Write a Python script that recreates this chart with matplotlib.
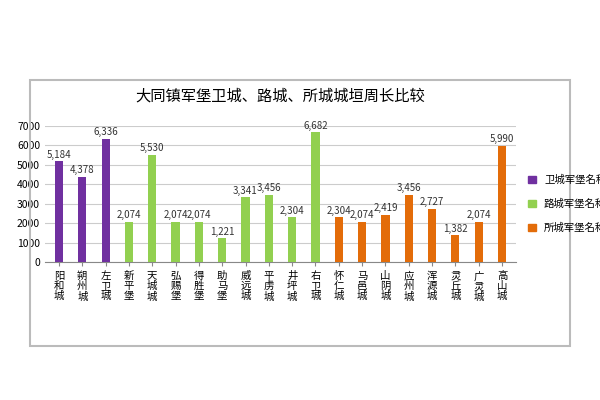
import matplotlib
matplotlib.use("Agg")
import matplotlib.pyplot as plt
from matplotlib.patches import Rectangle, Patch
from matplotlib import font_manager

names = {f.name for f in font_manager.fontManager.ttflist}
cjk = [n for n in ["Noto Sans CJK SC","Noto Sans CJK JP","Noto Sans CJK TC","Noto Sans CJK KR","Noto Sans SC"] if n in names]
if not cjk:
    import glob
    for p in glob.glob("/usr/share/fonts/**/*CJK*", recursive=True):
        try:
            font_manager.fontManager.addfont(p)
        except Exception:
            pass
    names = {f.name for f in font_manager.fontManager.ttflist}
    cjk = [n for n in names if "CJK" in n]
plt.rcParams['font.family'] = cjk + ['DejaVu Sans']

categories = ["阳和城","朔州城","左卫城","新平堡","天城城","弘赐堡","得胜堡","助马堡","威远城","平虏城",
              "井坪城","右卫城","怀仁城","马邑城","山阴城","应州城","浑源城","灵丘城","广灵城","高山城"]
values = [5184,4378,6336,2074,5530,2074,2074,1221,3341,3456,2304,6682,2304,2074,2419,3456,2727,1382,2074,5990]
groups = [0]*3 + [1]*9 + [2]*8
group_names = ["卫城军堡名称","路城军堡名称","所城军堡名称"]
colors = ["#7030A0","#92D050","#E36C09"]

fig = plt.figure(figsize=(6,4), dpi=100)
fig.patches.append(Rectangle((0.05,0.135),0.9,0.665, transform=fig.transFigure,
                             fill=False, edgecolor="#BBBBBB", lw=1.5))
ax = fig.add_axes([0.075,0.345,0.785,0.34])
x = range(len(categories))
ax.bar(x, values, width=0.35, color=[colors[g] for g in groups], zorder=3)
for i, v in enumerate(values):
    ax.text(i, v+80, f"{v:,}", ha='center', va='bottom', fontsize=7, color="#333333")
ax.set_ylim(0,7000)
ax.set_yticks(range(0,7001,1000))
ax.tick_params(axis='y', labelsize=7.5, length=0)
ax.set_xticks(list(x))
ax.set_xticklabels(["\n".join(c) for c in categories], fontsize=7.5, linespacing=1.0)
ax.tick_params(axis='x', length=3, color="#888888")
ax.set_xlim(-0.6, len(categories)-0.4)
ax.grid(axis='y', color="#CCCCCC", lw=0.8, zorder=0)
for s in ['top','right','left']:
    ax.spines[s].set_visible(False)
ax.spines['bottom'].set_color("#888888")
ax.set_title("大同镇军堡卫城、路城、所城城垣周长比较", fontsize=11, pad=18)
handles = [Patch(color=c, label=n) for c, n in zip(colors, group_names)]
fig.legend(handles=handles, loc='center left', bbox_to_anchor=(0.865,0.49), frameon=False,
           fontsize=7.5, handlelength=0.7, handleheight=0.7, labelspacing=1.3)
fig.savefig("out.png", dpi=100)
